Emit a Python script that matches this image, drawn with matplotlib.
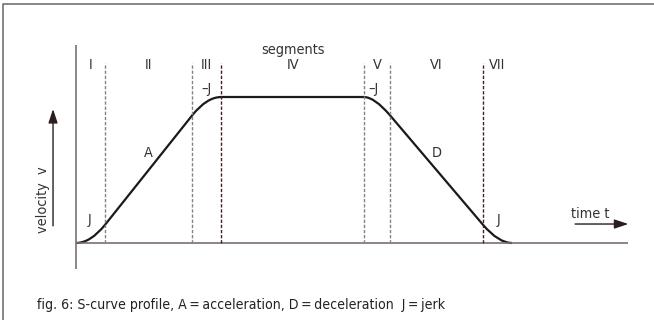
import numpy as np
import matplotlib
matplotlib.use("Agg")
import matplotlib.pyplot as plt
from matplotlib import font_manager as fm
from matplotlib.path import Path
from matplotlib.patches import PathPatch
from matplotlib.lines import Line2D

# -----------------------------
# data: S-curve velocity profile
# -----------------------------
seg_t = [0, 1, 4, 5, 9.9, 10.8, 14, 15]          # segment boundaries (time)
seg_v = [0, 0.5, 3.5, 4, 4, 3.5, 0.5, 0]        # velocity at boundaries
seg_names = ['I', 'II', 'III', 'IV', 'V', 'VI', 'VII']
jerk_segs = [0, 2, 4, 6]                         # segments drawn as curves
curve_labels = ['J', 'A', '\u2013J', '\u2013J', 'D', 'J']
label_t = [0.45, 2.5, 4.5, 10.25, 12.42, 14.55]
label_v = [0.63, 2.47, 4.22, 4.22, 2.47, 0.63]
caption = "fig. 6: S-curve profile, A\u2009=\u2009acceleration, D\u2009=\u2009deceleration  J\u2009=\u2009jerk"

# -----------------------------
# pick a narrow sans font if one is installed
# -----------------------------
family, stretch = 'Liberation Sans', 'normal'
for f in fm.fontManager.ttflist:
    st = str(f.stretch)
    if ('Narrow' in f.name or 'Condensed' in f.name or st in ('condensed', 'semi-condensed')) \
            and 'Mono' not in f.name and 'Serif' not in f.name and f.style == 'normal':
        family, stretch = f.name, st
        break
plt.rcParams['font.family'] = [family, 'DejaVu Sans']
plt.rcParams['font.stretch'] = stretch

# -----------------------------
# figure / axes (pixel mapping)
# -----------------------------
W, H = 654, 320
x0, y0 = 76, 243          # origin in pixels
sx, sy = 29.07, 36.5      # pixels per unit

fig = plt.figure(figsize=(W / 100, H / 100), dpi=100)
ax = fig.add_axes([0, 0, 1, 1])
ax.set_xlim(-x0 / sx, (W - x0) / sx)
ax.set_ylim((y0 - H) / sy, y0 / sy)
ax.axis('off')

# caption first, sized to roughly the reference width (~402 px)
cap = fig.text(37 / W, 1 - 305 / H, caption, ha='left', va='center',
               fontsize=10.5, color='#222222')
r = fig.canvas.get_renderer()
w = cap.get_window_extent(r).width
fs_cap = float(np.clip(10.5 * 410 / w, 8.5, 11.5))
cap.set_fontsize(fs_cap)
fs = fs_cap * 1.02

# frame (top + left only)
fig.add_artist(Line2D([3 / W, 3 / W, 1], [0, 1 - 4 / H, 1 - 4 / H],
                      color='#6a6464', lw=1.1, transform=fig.transFigure))

axis_col = '#7a7070'
ax.plot([0, 19], [0, 0], color=axis_col, lw=1.2, solid_capstyle='butt')
ax.plot([0, 0], [-0.71, 5.42], color=axis_col, lw=1.2, solid_capstyle='butt')

# segment boundaries
dash_cols = ['#8a8080', '#8a8080', '#4a1e1e', '#8a8080', '#8a8080', '#4a1e1e']
for t, c in zip(seg_t[1:-1], dash_cols):
    ax.plot([t, t], [0, 4.93], color=c, lw=1.0, ls=(0, (2.4, 1.3)))

# curve
def slope(i):
    if i < 0 or i >= len(seg_t) - 1:
        return 0.0
    return (seg_v[i + 1] - seg_v[i]) / (seg_t[i + 1] - seg_t[i])

verts = [(seg_t[0], seg_v[0])]
codes = [Path.MOVETO]
for i in range(len(seg_t) - 1):
    if i in jerk_segs:
        s1, s2 = slope(i - 1), slope(i + 1)
        tc = (seg_v[i + 1] - seg_v[i] + s1 * seg_t[i] - s2 * seg_t[i + 1]) / (s1 - s2)
        vc = seg_v[i] + s1 * (tc - seg_t[i])
        verts += [(tc, vc), (seg_t[i + 1], seg_v[i + 1])]
        codes += [Path.CURVE3, Path.CURVE3]
    else:
        verts.append((seg_t[i + 1], seg_v[i + 1]))
        codes.append(Path.LINETO)
ax.add_patch(PathPatch(Path(verts, codes), fill=False, edgecolor='#1a1a1a',
                       lw=1.6, capstyle='butt'))

txt_col = '#333333'
# segment names
for i, name in enumerate(seg_names):
    ax.text((seg_t[i] + seg_t[i + 1]) / 2, 4.88, name, ha='center', va='center',
            fontsize=fs, color=txt_col)
ax.text(7.46, 5.3, 'segments', ha='center', va='center', fontsize=fs, color=txt_col)

for lab, t, v in zip(curve_labels, label_t, label_v):
    ax.text(t, v, lab, ha='center', va='center', fontsize=fs, color=txt_col)

# velocity arrow
ax.annotate('', xy=(-0.79, 3.67), xytext=(-0.79, 0.47),
            arrowprops=dict(arrowstyle='-|>,head_length=0.6,head_width=0.2',
                            color='#2a1e1e', lw=1.0,
                            mutation_scale=14, shrinkA=0, shrinkB=0))
ax.text(-1.14, 1.2, 'velocity  v', rotation=90, ha='center', va='center',
        fontsize=fs, color=txt_col)

# time arrow
ax.annotate('', xy=(19.0, 0.52), xytext=(17.17, 0.52),
            arrowprops=dict(arrowstyle='-|>,head_length=0.6,head_width=0.2',
                            color='#2a1e1e', lw=1.0,
                            mutation_scale=14, shrinkA=0, shrinkB=0))
ax.text(17.68, 0.79, 'time t', ha='center', va='center', fontsize=fs, color=txt_col)

fig.savefig('out.png', dpi=100)
